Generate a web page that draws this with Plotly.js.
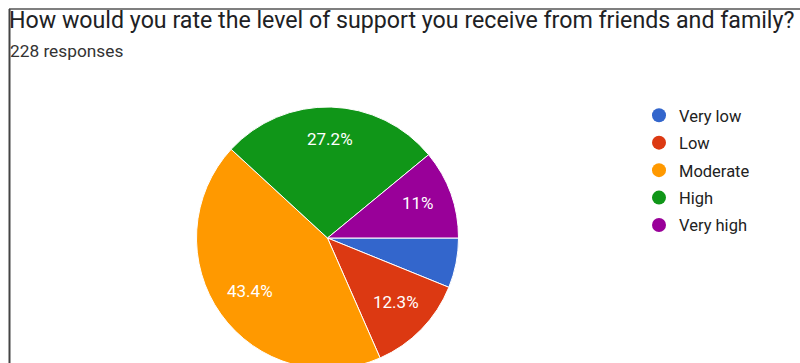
<!DOCTYPE html>
<html>
<head>
<meta charset="utf-8">
<script src="https://cdn.plot.ly/plotly-3.0.1.min.js"></script>
<style>
html,body{margin:0;padding:0;overflow:hidden;background:#fff;width:800px;height:363px;}
#chart{width:800px;height:380px;}
</style>
</head>
<body>
<div id="chart"></div>
<script>
const categories = ["Very low", "Low", "Moderate", "High", "Very high"];
const counts = [14, 28, 99, 62, 25];
const colors = ["#3366cc", "#dc3912", "#ff9900", "#109618", "#990099"];
const titleText = "How would you rate the level of support you receive from friends and family?";
const subtitleText = "228 responses";

const W = 800, H = 380;
const cx = 327.5, cy = 238, R = 131;
const FONT = "Roboto, Arial, sans-serif";

const pie = {
  type: "pie",
  labels: categories,
  values: counts,
  sort: false,
  direction: "clockwise",
  rotation: 90,
  marker: {colors: colors, line: {color: "#ffffff", width: 1}},
  textinfo: "none",
  hoverinfo: "label+percent",
  showlegend: false,
  domain: {x: [(cx - R) / W, (cx + R) / W], y: [(H - (cy + R)) / H, (H - (cy - R)) / H]}
};

// slice labels: placed along each slice's mid angle (computed from the data)
const total = counts.reduce((a, b) => a + b, 0);
function fmtPct(v) {
  const p = 100 * v / total;
  let s = p.toPrecision(3);
  if (s.indexOf(".") >= 0) s = s.replace(/0+$/, "").replace(/\.$/, "");
  return s + "%";
}
const labelAnnotations = [];
let acc = 0;
counts.forEach((v, i) => {
  const frac = v / total;
  const mid = (acc + frac / 2) * 2 * Math.PI; // clockwise from east (screen)
  acc += frac;
  if (frac < 0.08) return; // small slices are unlabeled
  const rr = 0.73 * R;
  const px = cx + rr * Math.cos(mid);
  const py = cy + rr * Math.sin(mid) - 3;
  labelAnnotations.push({
    text: fmtPct(v),
    xref: "paper", yref: "paper",
    x: px / W, y: 1 - py / H,
    xanchor: "center", yanchor: "middle",
    showarrow: false,
    font: {family: FONT, size: 17, color: "#ffffff"}
  });
});

const legendTraces = categories.map((c, i) => ({
  type: "scatter",
  mode: "markers",
  x: [null], y: [null],
  name: c,
  legendgroup: "g" + i,
  marker: {color: colors[i], size: 14, symbol: "circle"},
  showlegend: true,
  hoverinfo: "skip"
}));

const layout = {
  width: W, height: H,
  margin: {l: 0, r: 0, t: 0, b: 0},
  paper_bgcolor: "#ffffff",
  plot_bgcolor: "#ffffff",
  font: {family: FONT, color: "#212121"},
  title: {
    text: titleText,
    font: {family: FONT, size: 23.2, color: "#202124"},
    xref: "container", yref: "container",
    x: 9 / W, xanchor: "left",
    y: 1 - 20 / H, yanchor: "middle"
  },
  annotations: [{
    text: subtitleText,
    xref: "paper", yref: "paper",
    x: 8 / W, xanchor: "left",
    y: 1 - 51 / H, yanchor: "middle",
    showarrow: false,
    font: {family: FONT, size: 17.3, color: "#333333"}
  }].concat(labelAnnotations),
  shapes: [
    {type: "line", xref: "paper", yref: "paper", x0: 9 / W, x1: 1, y0: 1 - 9 / H, y1: 1 - 9 / H, line: {color: "#555555", width: 1.5}},
    {type: "line", xref: "paper", yref: "paper", x0: 9.5 / W, x1: 9.5 / W, y0: 0, y1: 1 - 9 / H, line: {color: "#444444", width: 2}}
  ],
  xaxis: {visible: false},
  yaxis: {visible: false},
  showlegend: true,
  legend: {
    x: 639 / W, xanchor: "left",
    y: 1 - 98 / H, yanchor: "top",
    bgcolor: "rgba(0,0,0,0)",
    font: {family: FONT, size: 16.5, color: "#222222"},
    traceorder: "grouped",
    tracegroupgap: 3,
    itemwidth: 30
  }
};

Plotly.newPlot("chart", [pie].concat(legendTraces), layout, {displayModeBar: false, staticPlot: true});
</script>
</body>
</html>
